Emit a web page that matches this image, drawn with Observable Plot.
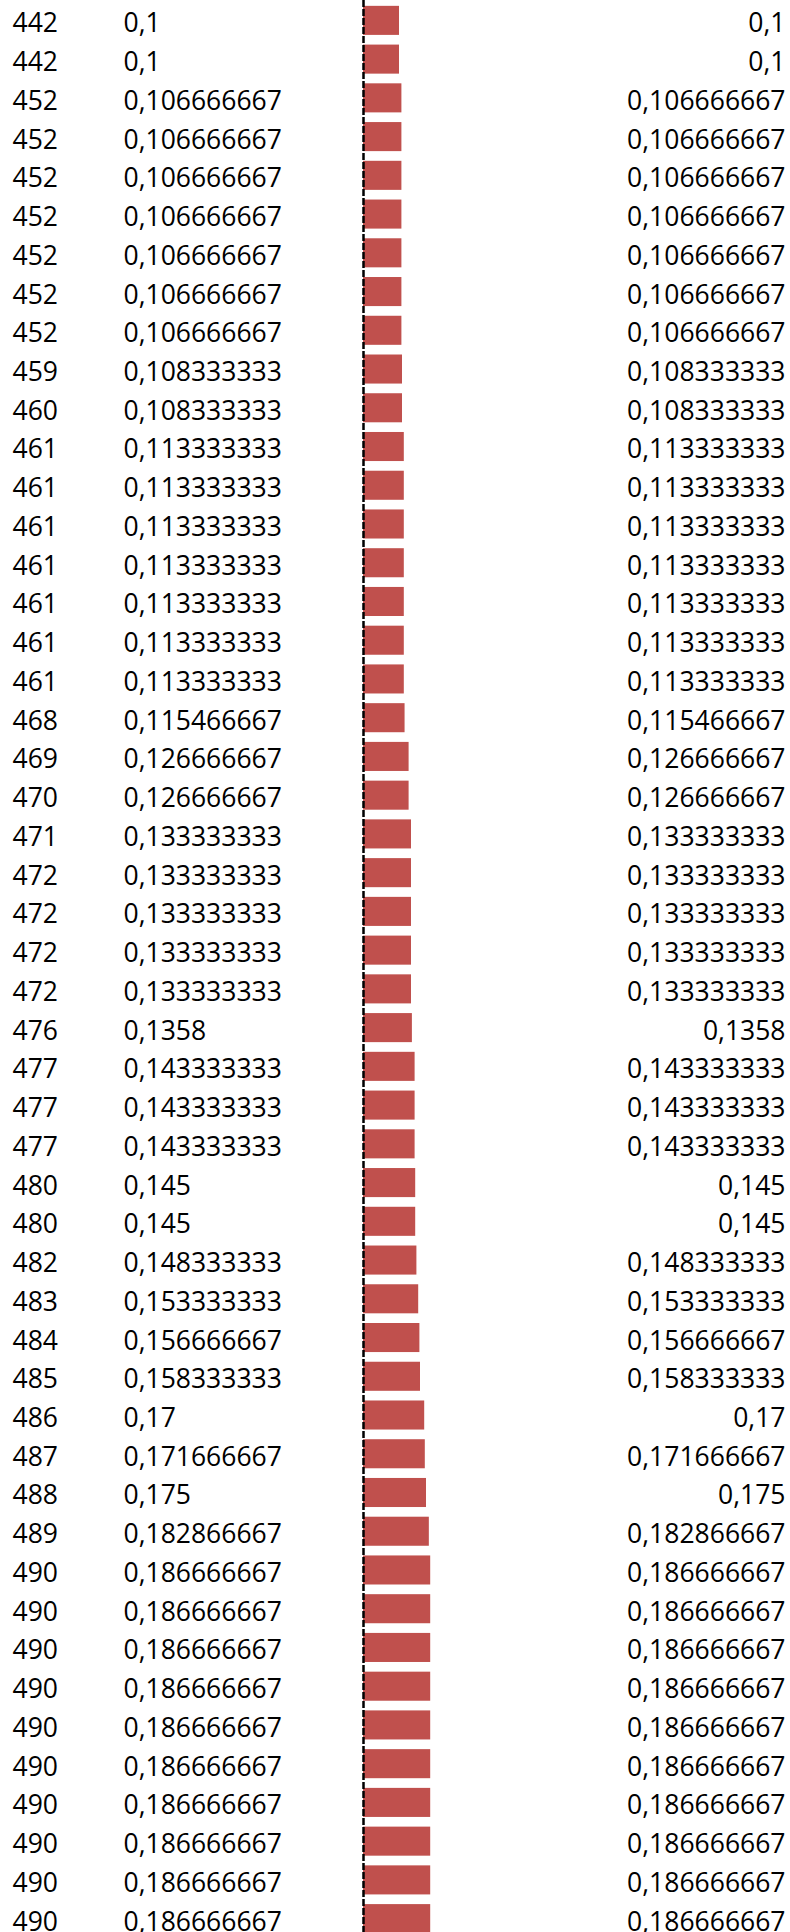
<!DOCTYPE html>
<html>
<head>
<meta charset="utf-8">
<script src="https://cdn.jsdelivr.net/npm/d3@7"></script>
<script src="https://cdn.jsdelivr.net/npm/@observablehq/plot@0.6"></script>
<style>
  html, body { margin: 0; padding: 0; background: #fff; }
  #chart svg { display: block; }
</style>
</head>
<body>
<div id="chart"></div>
<script>
// Row identifiers (first column)
const ids = [442, 442, 452, 452, 452, 452, 452, 452, 452, 459, 460, 461, 461, 461, 461, 461, 461, 461, 468, 469, 470, 471, 472, 472, 472, 472, 476, 477, 477, 477, 480, 480, 482, 483, 484, 485, 486, 487, 488, 489, 490, 490, 490, 490, 490, 490, 490, 490, 490, 490];
// Values (second column, bar length, third column)
const values = [0.1, 0.1, 0.106666667, 0.106666667, 0.106666667, 0.106666667, 0.106666667, 0.106666667, 0.106666667, 0.108333333, 0.108333333, 0.113333333, 0.113333333, 0.113333333, 0.113333333, 0.113333333, 0.113333333, 0.113333333, 0.115466667, 0.126666667, 0.126666667, 0.133333333, 0.133333333, 0.133333333, 0.133333333, 0.133333333, 0.1358, 0.143333333, 0.143333333, 0.143333333, 0.145, 0.145, 0.148333333, 0.153333333, 0.156666667, 0.158333333, 0.17, 0.171666667, 0.175, 0.182866667, 0.186666667, 0.186666667, 0.186666667, 0.186666667, 0.186666667, 0.186666667, 0.186666667, 0.186666667, 0.186666667, 0.186666667];

const fmt = v => String(v).replace(".", ",");
const rows = ids.map((id, i) => ({i, id, value: values[i], label: fmt(values[i])}));

const W = 790, H = 1932;
const font = "'Open Sans', Lato, sans-serif";
const fs = 26.5;

const chart = Plot.plot({
  width: W,
  height: H,
  margin: 0,
  style: {fontFamily: font, background: "#fff", color: "#000"},
  x: {domain: [0, 1], range: [363, 723], axis: null},
  y: {type: "band", domain: rows.map(d => d.i), range: [1, 1938], paddingInner: 0.25, paddingOuter: 0.125, axis: null},
  marks: [
    Plot.barX(rows, {x: "value", y: "i", fill: "#C0504D"}),
    Plot.ruleX([0], {stroke: "#000", strokeWidth: 2.5, strokeDasharray: "7,2"}),
    Plot.text(rows, {y: "i", text: d => String(d.id), frameAnchor: "left", textAnchor: "start", dx: 12, dy: 3, fontSize: fs, fill: "#000"}),
    Plot.text(rows, {y: "i", text: "label", frameAnchor: "left", textAnchor: "start", dx: 123, dy: 3, fontSize: fs, fill: "#000"}),
    Plot.text(rows, {y: "i", text: "label", frameAnchor: "right", textAnchor: "end", dx: -5, dy: 3, fontSize: fs, fill: "#000"})
  ]
});
document.getElementById("chart").appendChild(chart);
</script>
</body>
</html>
